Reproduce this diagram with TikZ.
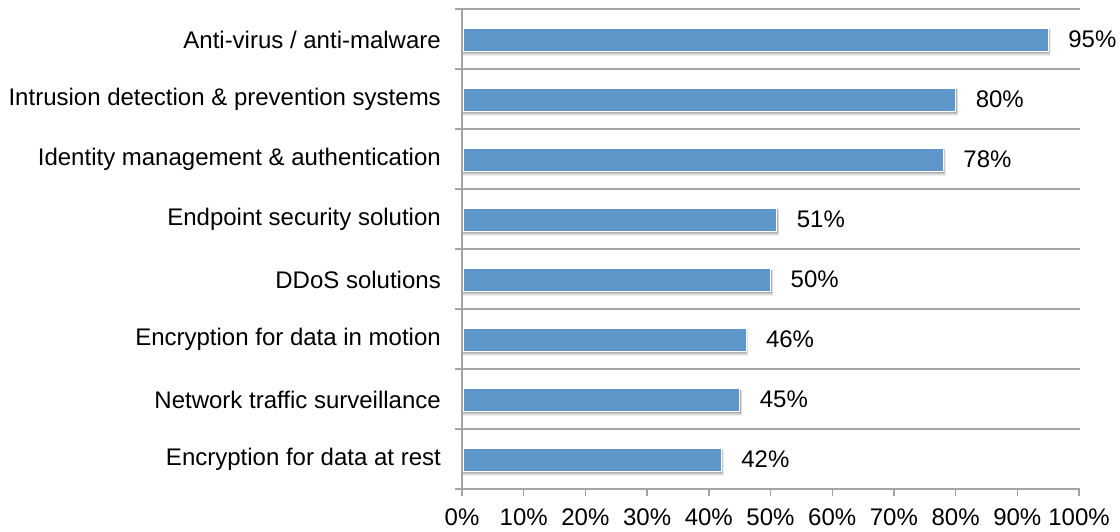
\documentclass[tikz,border=0pt]{standalone}
\usepackage{fontspec}
\setmainfont{Liberation Sans}
\definecolor{barblue}{HTML}{5F96C9}
\definecolor{gridgray}{HTML}{A3A3A3}
\begin{document}
\begin{tikzpicture}[x=1pt,y=-1pt,
  gridline/.style={draw=gridgray,line width=1.4pt},
  axisline/.style={draw=gridgray,line width=1.8pt},
  catlabel/.style={anchor=east,inner sep=0pt,font=\fontsize{24}{28}\selectfont},
  vallabel/.style={anchor=west,inner sep=0pt,font=\fontsize{24}{28}\selectfont},
  ticklabel/.style={anchor=center,inner sep=0pt,font=\fontsize{24}{28}\selectfont},
  barfill/.style={fill=barblue,draw=white,line width=0.6pt}]
\useasboundingbox (0,0) rectangle (1120,532);
% horizontal gridlines at category boundaries, with small left ticks
\foreach \k in {0,...,7}{
  \draw[gridline] (455,{9+60*\k}) -- (1080,{9+60*\k});
}
% bottom axis and ticks
\draw[axisline] (455,489) -- (1080,489);
\foreach \t in {0,...,10}{
  \draw[gridline] ({462+61.7*\t},489) -- ({462+61.7*\t},496);
  \pgfmathtruncatemacro{\pc}{10*\t}
  \node[ticklabel] (tick\t) at ({462+61.7*\t},517) {\pc\%};
}
% bars with soft shadows
\foreach \i/\v/\name in {0/95/{Anti-virus / anti-malware},
  1/80/{Intrusion detection \& prevention systems},
  2/78/{Identity management \& authentication},
  3/51/{Endpoint security solution},
  4/50/{DDoS solutions},
  5/46/{Encryption for data in motion},
  6/45/{Network traffic surveillance},
  7/42/{Encryption for data at rest}}{
  \pgfmathsetmacro{\yc}{39.5+60*\i}
  \pgfmathsetmacro{\xe}{462+6.17*\v}
  \foreach \s/\o in {5/0.06,4/0.08,3/0.1,2/0.12,1/0.14}{
    \fill[black,opacity=\o] (463,\yc-10) rectangle (\xe+\s*0.5,\yc+11.5+\s);
  }
  \path[barfill] (463,\yc-11.5) rectangle (\xe,\yc+11.5);
  \node[catlabel] (cat\i) at (441,\yc) {\name};
  \node[vallabel] (val\i) at (\xe+20,\yc) {\v\%};
}
% vertical axis
\draw[axisline] (462,9) -- (462,496);
\end{tikzpicture}
\end{document}
